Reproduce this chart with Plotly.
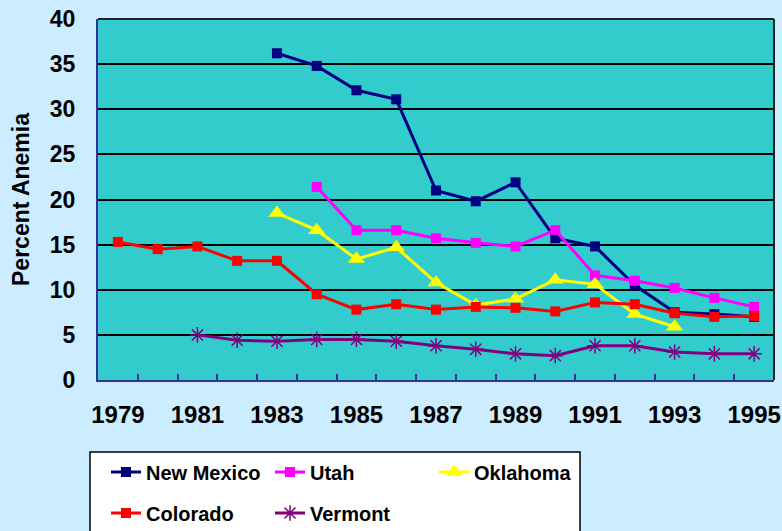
import plotly.graph_objects as go

years = list(range(1979, 1996))
tick_years = [1979, 1981, 1983, 1985, 1987, 1989, 1991, 1993, 1995]
y_ticks = [0, 5, 10, 15, 20, 25, 30, 35, 40]

new_mexico = [None, None, None, None, 36.2, 34.8, 32.1, 31.1, 21.0, 19.8, 21.9, 15.7, 14.8, 10.5, 7.5, 7.3, 7.0]
utah = [None, None, None, None, None, 21.4, 16.6, 16.6, 15.7, 15.2, 14.8, 16.6, 11.6, 11.0, 10.2, 9.1, 8.1]
oklahoma = [None, None, None, None, 18.5, 16.6, 13.4, 14.7, 10.8, 8.3, 9.0, 11.1, 10.6, 7.3, 5.9, None, None]
colorado = [15.3, 14.5, 14.8, 13.2, 13.2, 9.5, 7.8, 8.4, 7.8, 8.1, 8.0, 7.6, 8.6, 8.4, 7.4, 7.0, 7.1]
vermont = [None, None, 5.0, 4.4, 4.3, 4.5, 4.5, 4.3, 3.8, 3.4, 2.9, 2.7, 3.8, 3.8, 3.1, 2.9, 2.9]

FONT = "Liberation Sans, Arial, sans-serif"

fig = go.Figure()

def add(name, vals, color, symbol, size, legend, mline=None):
    marker = dict(symbol=symbol, size=size, color=color)
    if mline:
        marker["line"] = dict(color=color, width=mline)
    fig.add_trace(go.Scatter(
        x=years, y=vals, name=name, mode="lines+markers",
        line=dict(color=color, width=3), marker=marker,
        connectgaps=False, legend=legend))

add("New Mexico", new_mexico, "#000080", "square", 10, "legend")
add("Utah", utah, "#FF00FF", "square", 10, "legend")
add("Oklahoma", oklahoma, "#FFFF00", "triangle-up", 15, "legend")
add("Colorado", colorado, "#FF0000", "square", 10, "legend2")
add("Vermont", vermont, "#800080", "asterisk-open", 13, "legend2", mline=1.5)

W, H = 782, 531
L, R, T, B = 98, 774, 19, 380
pw, ph = R - L, B - T

def px(x):
    return (x - L) / pw

def py(y):
    return (B - y) / ph

legend_common = dict(
    orientation="h", xanchor="left", yanchor="middle",
    bgcolor="rgba(0,0,0,0)", borderwidth=0,
    font=dict(family=FONT, size=20, color="#000000", weight="bold"),
    entrywidth=119, entrywidthmode="pixels",
    itemwidth=30, tracegroupgap=0,
)

fig.update_layout(
    width=W, height=H,
    margin=dict(l=L, r=W - R, t=T, b=H - B, pad=0, autoexpand=False),
    paper_bgcolor="#CCECFF",
    plot_bgcolor="#33CCCC",
    showlegend=True,
    legend=dict(x=px(106), y=py(472), **legend_common),
    legend2=dict(x=px(106), y=py(513), **legend_common),
    xaxis=dict(
        range=[1978.5, 1995.5], tickmode="array", tickvals=tick_years,
        ticktext=[str(y) for y in tick_years],
        ticks="", showgrid=False, zeroline=False,
        showline=True, linecolor="#333399", linewidth=2,
        tickfont=dict(family=FONT, size=24, color="#000000", weight="bold"),
        ticklabelstandoff=12,
        minor=dict(tickmode="array", tickvals=[y + 0.5 for y in range(1979, 1995)],
                   ticks="inside", ticklen=6, tickwidth=2, tickcolor="#333399",
                   showgrid=False),
    ),
    yaxis=dict(
        range=[0, 40], tickmode="array", tickvals=y_ticks,
        ticks="", showgrid=True, gridcolor="#000000", gridwidth=1.5,
        zeroline=False, showline=True, linecolor="#333399", linewidth=2,
        tickfont=dict(family=FONT, size=23, color="#000000", weight="bold"),
        ticklabelstandoff=16,
        title=dict(text="Percent Anemia",
                   font=dict(family=FONT, size=23, color="#000000", weight="bold"),
                   standoff=14),
    ),
    shapes=[
        dict(type="line", xref="paper", yref="paper", x0=0, x1=1, y0=1, y1=1,
             line=dict(color="#222222", width=2), layer="above"),
        dict(type="line", xref="paper", yref="paper", x0=1, x1=1, y0=0, y1=1,
             line=dict(color="#222222", width=2), layer="above"),
        dict(type="rect", xref="paper", yref="paper",
             x0=px(90), x1=px(580), y0=py(452), y1=py(545),
             line=dict(color="#000000", width=1.5), fillcolor="#FFFFFF", layer="below"),
    ],
)

fig.write_html(
    "out.html",
    config={"displayModeBar": False},
    post_script="document.body.style.margin='0';document.body.style.padding='0';"
                "document.body.style.background='#CCECFF';"
                "document.documentElement.style.overflow='hidden';",
)
